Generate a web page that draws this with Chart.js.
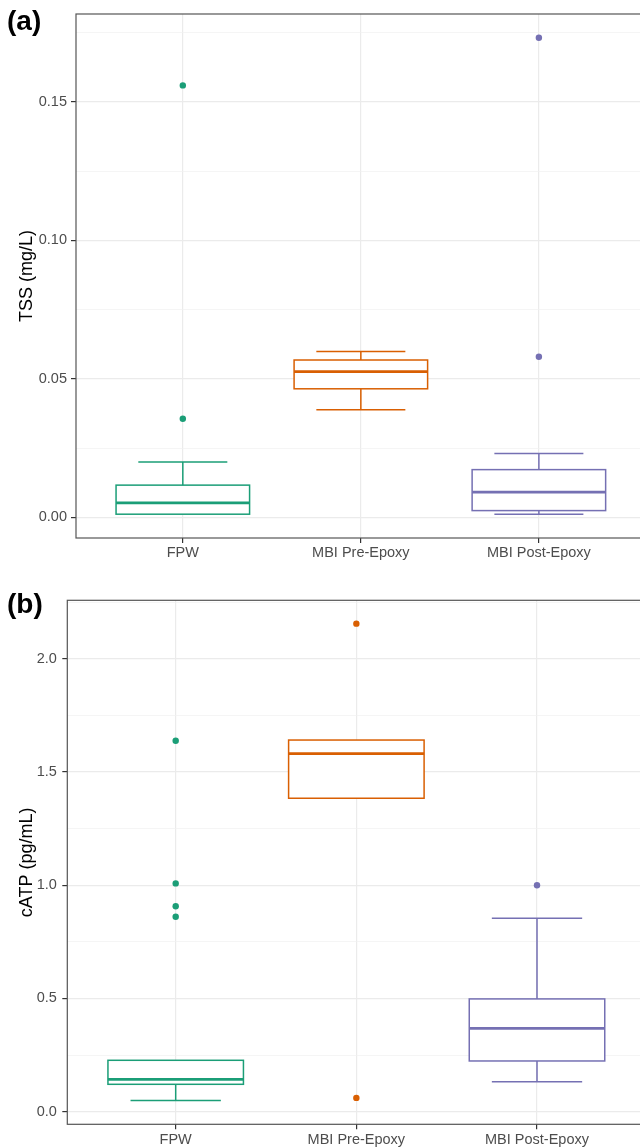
<!DOCTYPE html>
<html>
<head>
<meta charset="utf-8">
<script src="https://cdn.jsdelivr.net/npm/chart.js@4.4.0/dist/chart.umd.min.js"></script>
<style>
  html, body { margin: 0; padding: 0; background: #fff; overflow: hidden; width: 640px; height: 1147px; }
  .panel { position: absolute; left: 0; width: 660px; }
  .panel canvas { display: block; }
  .tag { position: absolute; left: 7px; font: bold 28px/28px "Liberation Sans", Arial, sans-serif; color: #000; }
</style>
</head>
<body>
<div class="panel" style="top:0;height:575px"><canvas id="tss" width="660" height="575"></canvas></div>
<div class="panel" style="top:575px;height:572px"><canvas id="atp" width="660" height="572"></canvas></div>
<div class="tag" style="top:7px">(a)</div>
<div class="tag" style="top:590px">(b)</div>
<script>
const groups = ['FPW', 'MBI Pre-Epoxy', 'MBI Post-Epoxy'];
const colours = ['#1B9E77', '#D95F02', '#7570B3'];

// (a) TSS, mg/L
const tssLow = [0.0011, 0.0388, 0.0011];
const tssQ1 = [0.0011, 0.0464, 0.0024];
const tssMedian = [0.0052, 0.0526, 0.0091];
const tssQ3 = [0.0116, 0.0568, 0.0172];
const tssHigh = [0.0200, 0.0599, 0.0230];
const tssOutGroup = [1, 1, 3, 3];
const tssOutValue = [0.156, 0.0356, 0.1732, 0.058];
const tssTicks = [0, 0.05, 0.10, 0.15];
const tssTickLabels = ['0.00', '0.05', '0.10', '0.15'];
const tssMinor = [0.025, 0.075, 0.125, 0.175];

// (b) cATP, pg/mL
const atpLow = [0.050, 1.384, 0.132];
const atpQ1 = [0.121, 1.384, 0.224];
const atpMedian = [0.143, 1.581, 0.368];
const atpQ3 = [0.227, 1.641, 0.498];
const atpHigh = [0.227, 1.641, 0.854];
const atpOutGroup = [1, 1, 1, 1, 2, 2, 3];
const atpOutValue = [1.638, 1.008, 0.907, 0.861, 2.155, 0.061, 1.0];
const atpTicks = [0, 0.5, 1.0, 1.5, 2.0];
const atpTickLabels = ['0.0', '0.5', '1.0', '1.5', '2.0'];
const atpMinor = [0.25, 0.75, 1.25, 1.75, 2.25];

const FONT = '"Liberation Sans", Arial, sans-serif';

// box outlines, whiskers, caps, medians and the panel frame
function boxLines(st) {
  return {
    id: 'boxLines',
    afterDatasetsDraw(chart) {
      const { ctx, scales: { x, y } } = chart;
      const unit = x.getPixelForValue(2) - x.getPixelForValue(1);
      ctx.save();
      groups.forEach((g, i) => {
        const cx = x.getPixelForValue(i + 1);
        const yq1 = y.getPixelForValue(st.q1[i]);
        const yq3 = y.getPixelForValue(st.q3[i]);
        ctx.strokeStyle = colours[i];
        ctx.lineWidth = 1.5;
        ctx.beginPath();
        // a whisker that ends on the box edge is hidden by the box outline
        [[st.high[i], yq3, st.q3[i]], [st.low[i], yq1, st.q1[i]]].forEach(([v, edge, q]) => {
          if (v === q) return;
          const py = y.getPixelForValue(v);
          ctx.moveTo(cx, edge);
          ctx.lineTo(cx, py);
          ctx.moveTo(cx - unit / 4, py);
          ctx.lineTo(cx + unit / 4, py);
        });
        ctx.stroke();
        ctx.strokeRect(cx - unit * 0.375, yq3, unit * 0.75, yq1 - yq3);
        const my = y.getPixelForValue(st.median[i]);
        ctx.lineWidth = 2.8;
        ctx.beginPath();
        ctx.moveTo(cx - unit * 0.375, my);
        ctx.lineTo(cx + unit * 0.375, my);
        ctx.stroke();
      });
      ctx.restore();
    },
    afterDraw(chart) {
      const { ctx, chartArea: a } = chart;
      ctx.save();
      ctx.strokeStyle = '#555';
      ctx.lineWidth = 1.2;
      ctx.strokeRect(a.left, a.top, a.right - a.left, a.bottom - a.top);
      ctx.restore();
    }
  };
}

function makePanel(id, st) {
  const canvas = document.getElementById(id);
  const isMinor = v => st.minor.includes(v);
  return new Chart(canvas.getContext('2d'), {
    type: 'bar',
    data: {
      datasets: [
        {
          // white box body that hides the grid; outline comes from the plugin
          type: 'bar',
          data: groups.map((g, i) => ({ x: i + 1, y: [st.q1[i], st.q3[i]] })),
          backgroundColor: '#fff',
          borderWidth: 0,
          barPercentage: 0.75,
          categoryPercentage: 1,
          order: 2
        },
        {
          type: 'scatter',
          data: st.outGroup.map((g, i) => ({ x: g, y: st.outValue[i] })),
          pointBackgroundColor: st.outGroup.map(g => colours[g - 1]),
          pointBorderWidth: 0,
          pointRadius: 3.2,
          order: 1
        }
      ]
    },
    options: {
      responsive: false,
      animation: false,
      layout: { padding: { left: 0, top: st.area.top, right: canvas.width - st.area.right, bottom: 0 } },
      plugins: { legend: { display: false }, tooltip: { enabled: false } },
      scales: {
        x: {
          type: 'linear',
          min: 0.4,
          max: 3.6,
          offset: false,
          border: { display: false },
          grid: { offset: false, color: '#EBEBEB', lineWidth: 1.2, tickColor: '#333', tickLength: 5 },
          afterBuildTicks: s => { s.ticks = groups.map((g, i) => ({ value: i + 1 })); },
          afterFit: s => { s.height = canvas.height - st.area.bottom; },
          ticks: {
            autoSkip: false,
            maxRotation: 0,
            padding: 1.5,
            color: '#4D4D4D',
            font: { family: FONT, size: 14.5 },
            callback: v => groups[Math.round(v) - 1]
          }
        },
        y: {
          min: st.yMin,
          max: st.yMax,
          border: { display: false },
          grid: {
            color: c => (c.tick && isMinor(c.tick.value)) ? '#F0F0F0' : '#EBEBEB',
            lineWidth: c => (c.tick && isMinor(c.tick.value)) ? 0.7 : 1.2,
            tickColor: c => (c.tick && isMinor(c.tick.value)) ? 'rgba(0,0,0,0)' : '#333',
            tickLength: 5
          },
          afterBuildTicks: s => {
            s.ticks = st.ticks.concat(st.minor).sort((a, b) => a - b).map(v => ({ value: v }));
          },
          afterFit: s => { s.width = st.area.left; },
          ticks: {
            autoSkip: false,
            padding: st.tickPad,
            color: '#4D4D4D',
            font: { family: FONT, size: 14.5 },
            callback: v => {
              const k = st.ticks.indexOf(v);
              return k < 0 ? '' : st.tickLabels[k];
            }
          },
          title: {
            display: true,
            text: st.title,
            color: '#000',
            font: { family: FONT, size: 18 },
            padding: { top: 16.2, bottom: 0 }
          }
        }
      }
    },
    plugins: [boxLines(st)]
  });
}

makePanel('tss', {
  low: tssLow, q1: tssQ1, median: tssMedian, q3: tssQ3, high: tssHigh,
  outGroup: tssOutGroup, outValue: tssOutValue,
  ticks: tssTicks, tickLabels: tssTickLabels, minor: tssMinor,
  yMin: -0.0075, yMax: 0.1818,
  title: 'TSS (mg/L)',
  area: { left: 76, top: 14, right: 645.7, bottom: 538 },
  tickPad: 4
});

makePanel('atp', {
  low: atpLow, q1: atpQ1, median: atpMedian, q3: atpQ3, high: atpHigh,
  outGroup: atpOutGroup, outValue: atpOutValue,
  ticks: atpTicks, tickLabels: atpTickLabels, minor: atpMinor,
  yMin: -0.0556, yMax: 2.258,
  title: 'cATP (pg/mL)',
  area: { left: 67.3, top: 25.3, right: 645.4, bottom: 549.3 },
  tickPad: 5.5
});
</script>
</body>
</html>
